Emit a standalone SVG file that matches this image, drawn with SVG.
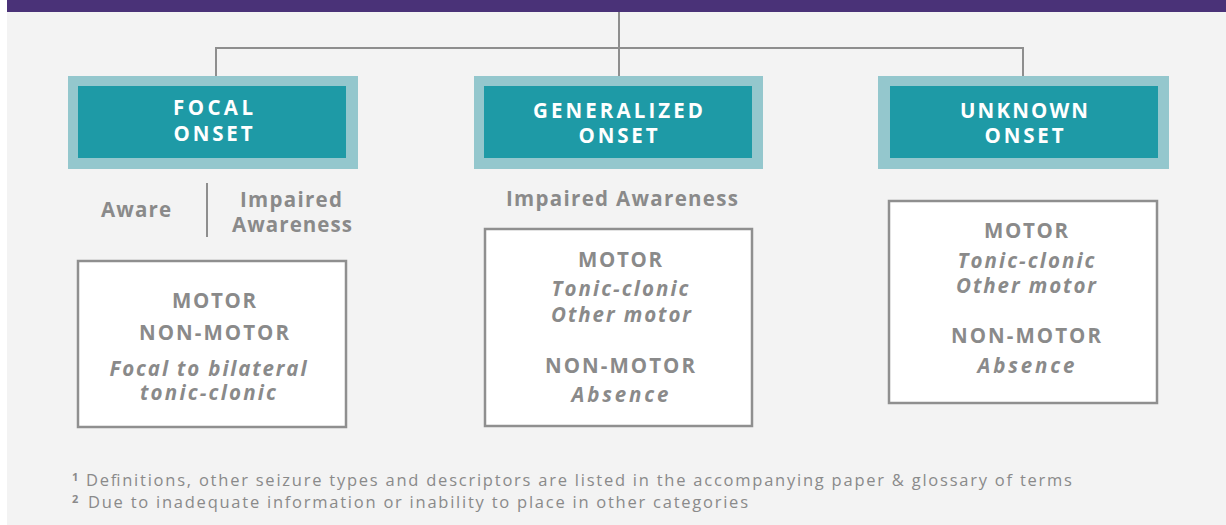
<svg xmlns="http://www.w3.org/2000/svg" width="1226" height="525" viewBox="0 0 1226 525">
  <style>
    .panel { fill: #f3f3f3; }
    .band { fill: #4a3278; }
    .wire { fill: none; stroke: #8e8e8e; stroke-width: 2; }
    .outer { fill: #94c7cd; }
    .inner { fill: #1e9aa6; }
    .card { fill: #ffffff; stroke: #8f8f8f; stroke-width: 2.5; }
    .head { font-family: "Open Sans", "Noto Sans", sans-serif; font-weight: 700; font-size: 20.5px; fill: #ffffff; text-anchor: middle; }
    .lab { font-family: "Open Sans", "Noto Sans", sans-serif; font-weight: 700; font-size: 20.5px; fill: #8a8a8a; text-anchor: middle; }
    .cap { font-family: "Open Sans", "Noto Sans", sans-serif; font-weight: 700; font-size: 20.5px; fill: #8a8a8a; text-anchor: middle; }
    .it { font-family: "Open Sans", "Noto Sans", sans-serif; font-weight: 700; font-style: italic; font-size: 20.5px; fill: #8a8a8a; text-anchor: middle; }
    .note { font-family: "Open Sans", "Noto Sans", sans-serif; font-weight: 400; font-size: 16.5px; fill: #8a8a8a; }
    .sup { font-family: "Open Sans", "Noto Sans", sans-serif; font-weight: 700; font-size: 11px; fill: #8a8a8a; }
  </style>

  <rect x="0" y="0" width="1226" height="525" fill="#ffffff"/>
  <rect class="panel" x="7" y="0" width="1219" height="525"/>
  <rect class="band" x="7" y="0" width="1219" height="12"/>

  <!-- tree connectors -->
  <g id="connectors">
    <path class="wire" d="M619 12 V76"/>
    <path class="wire" d="M216 76 V48 H1023 V76"/>
    <path class="wire" d="M207 183 V237"/>
  </g>

  <!-- onset categories -->
  <g id="focal">
    <rect class="outer" x="68" y="76" width="290" height="93"/>
    <rect class="inner" x="78" y="86" width="268" height="72"/>
    <text class="head" x="213" y="115" textLength="80" lengthAdjust="spacing">FOCAL</text>
    <text class="head" x="213" y="141" textLength="79" lengthAdjust="spacing">ONSET</text>
  </g>
  <g id="generalized">
    <rect class="outer" x="474" y="76" width="289" height="93"/>
    <rect class="inner" x="484" y="86" width="268" height="72"/>
    <text class="head" x="618" y="118" textLength="170" lengthAdjust="spacing">GENERALIZED</text>
    <text class="head" x="618" y="143" textLength="79" lengthAdjust="spacing">ONSET</text>
  </g>
  <g id="unknown">
    <rect class="outer" x="878" y="76" width="291" height="93"/>
    <rect class="inner" x="890" y="86" width="268" height="72"/>
    <text class="head" x="1024" y="118" textLength="128" lengthAdjust="spacing">UNKNOWN</text>
    <text class="head" x="1024" y="143" textLength="79" lengthAdjust="spacing">ONSET</text>
  </g>

  <!-- awareness labels -->
  <g id="focal-awareness">
    <text class="lab" x="136" y="217" textLength="70" lengthAdjust="spacing">Aware</text>
    <text class="lab" x="291" y="207" textLength="102" lengthAdjust="spacing">Impaired</text>
    <text class="lab" x="292" y="232" textLength="120" lengthAdjust="spacing">Awareness</text>
  </g>
  <g id="generalized-awareness">
    <text class="lab" x="622" y="206" textLength="232" lengthAdjust="spacing">Impaired Awareness</text>
  </g>

  <!-- seizure type cards -->
  <g id="focal-types">
    <rect class="card" x="78" y="261" width="268" height="166"/>
    <text class="cap" x="214" y="308" textLength="84" lengthAdjust="spacing">MOTOR</text>
    <text class="cap" x="214" y="340" textLength="150" lengthAdjust="spacing">NON-MOTOR</text>
    <text class="it" x="208" y="376" textLength="197" lengthAdjust="spacing">Focal to bilateral</text>
    <text class="it" x="208" y="400" textLength="136" lengthAdjust="spacing">tonic-clonic</text>
  </g>
  <g id="generalized-types">
    <rect class="card" x="485" y="229" width="267" height="197"/>
    <text class="cap" x="620" y="267" textLength="84" lengthAdjust="spacing">MOTOR</text>
    <text class="it" x="620" y="296" textLength="137" lengthAdjust="spacing">Tonic-clonic</text>
    <text class="it" x="621" y="322" textLength="140" lengthAdjust="spacing">Other motor</text>
    <text class="cap" x="620" y="373" textLength="150" lengthAdjust="spacing">NON-MOTOR</text>
    <text class="it" x="620" y="402" textLength="97" lengthAdjust="spacing">Absence</text>
  </g>
  <g id="unknown-types">
    <rect class="card" x="889" y="201" width="268" height="202"/>
    <text class="cap" x="1026" y="238" textLength="84" lengthAdjust="spacing">MOTOR</text>
    <text class="it" x="1026" y="268" textLength="137" lengthAdjust="spacing">Tonic-clonic</text>
    <text class="it" x="1026" y="293" textLength="140" lengthAdjust="spacing">Other motor</text>
    <text class="cap" x="1026" y="343" textLength="150" lengthAdjust="spacing">NON-MOTOR</text>
    <text class="it" x="1026" y="373" textLength="97" lengthAdjust="spacing">Absence</text>
  </g>

  <!-- footnotes -->
  <g id="footnotes">
    <text class="sup" x="72" y="481">1</text>
    <text class="note" x="86" y="486" textLength="986" lengthAdjust="spacing">Definitions, other seizure types and descriptors are listed in the accompanying paper &amp; glossary of terms</text>
    <text class="sup" x="72" y="503">2</text>
    <text class="note" x="88" y="508" textLength="660" lengthAdjust="spacing">Due to inadequate information or inability to place in other categories</text>
  </g>
</svg>
